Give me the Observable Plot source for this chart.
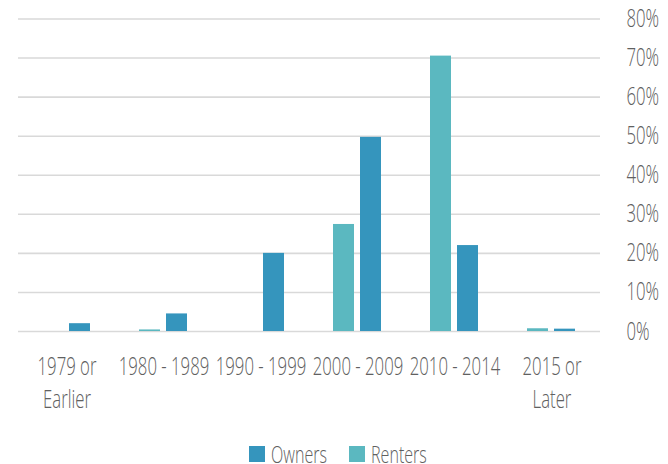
<!DOCTYPE html>
<html>
<head>
<meta charset="utf-8">
<script src="https://cdn.jsdelivr.net/npm/d3@7"></script>
<script src="https://cdn.jsdelivr.net/npm/@observablehq/plot@0.6"></script>
<style>
  html, body { margin: 0; padding: 0; background: #fff; }
  body { position: relative; width: 668px; height: 464px; font-family: 'Open Sans', sans-serif; font-weight: 300; color: #606060; }
  #chart svg { display: block; }
  #legend { position: absolute; left: 0; top: 445px; width: 668px; height: 18px; font-size: 24px; line-height: 18px; }
  .item { position: absolute; top: 0; display: flex; align-items: center; height: 18px; white-space: nowrap; }
  .sw { width: 16px; height: 16px; margin-right: 6px; flex: none; }
  .lt { display: inline-block; transform-origin: 0 50%; }
</style>
</head>
<body>
<div id="chart"></div>
<div id="legend"></div>
<script>
const categories = ["1979 or\nEarlier", "1980 - 1989", "1990 - 1999", "2000 - 2009", "2010 - 2014", "2015 or\nLater"];
const seriesNames = ["Renters", "Owners"];
const owners = [2.0, 4.5, 20.0, 49.7, 22.0, 0.6];
const renters = [0, 0.4, 0, 27.4, 70.5, 0.7];
const yTicks = [0, 10, 20, 30, 40, 50, 60, 70, 80];
const legendOrder = ["Owners", "Renters"];
const colors = {Owners: "#3595bd", Renters: "#5bb8c0"};
const squeeze = 0.67;

const rows = categories.flatMap((c, i) => [
  {category: c, series: "Renters", value: renters[i]},
  {category: c, series: "Owners", value: owners[i]}
]);

const chart = Plot.plot({
  width: 668,
  height: 420,
  marginLeft: 18,
  marginRight: 68,
  marginTop: 18.5,
  marginBottom: 89,
  style: {fontFamily: "'Open Sans', sans-serif", fontWeight: 300, fontSize: "25px", color: "#606060", background: "#fff"},
  fx: {domain: categories, padding: 0, label: null},
  x: {domain: seriesNames, axis: null, paddingInner: 0.214, paddingOuter: 0.84},
  y: {domain: [0, 80], label: null},
  color: {domain: legendOrder, range: legendOrder.map(k => colors[k])},
  marks: [
    Plot.gridY(yTicks, {stroke: "#d9d9d9", strokeOpacity: 1, strokeWidth: 1.6}),
    Plot.barY(rows, {fx: "category", x: "series", y: "value", fill: "series"}),
    Plot.axisY({anchor: "right", ticks: yTicks, tickSize: 0, tickPadding: 26, tickFormat: d => d + "%", label: null, fontSize: 25}),
    Plot.axisFx({anchor: "bottom", tickSize: 0, tickPadding: 20, lineHeight: 1.32, label: null, fontSize: 25})
  ]
});

// condense the glyphs horizontally to imitate the narrow typeface of the original
chart.querySelectorAll("text").forEach(t => {
  const tr = t.getAttribute("transform");
  if (tr) {
    t.setAttribute("transform", tr + ` scale(${squeeze},1)`);
  } else {
    const x = +(t.getAttribute("x") || 0), y = +(t.getAttribute("y") || 0);
    t.removeAttribute("x"); t.removeAttribute("y");
    t.setAttribute("transform", `translate(${x},${y}) scale(${squeeze},1)`);
  }
});
document.getElementById("chart").appendChild(chart);

const legend = document.getElementById("legend");
const items = [];
for (const k of legendOrder) {
  const item = document.createElement("div");
  item.className = "item";
  const sw = document.createElement("div");
  sw.className = "sw";
  sw.style.background = colors[k];
  const t = document.createElement("span");
  t.className = "lt";
  t.textContent = k;
  t.style.transform = `scaleX(${squeeze})`;
  item.appendChild(sw);
  item.appendChild(t);
  legend.appendChild(item);
  items.push({item, t});
}
// lay the items out using their condensed widths, centred like the original
const gap = 22;
const widths = items.map(({t}) => 16 + 6 + t.getBoundingClientRect().width);
const total = widths.reduce((a, b) => a + b, 0) + gap;
let left = 338 - total / 2;
items.forEach(({item}, i) => { item.style.left = left + "px"; left += widths[i] + gap; });
</script>
</body>
</html>
